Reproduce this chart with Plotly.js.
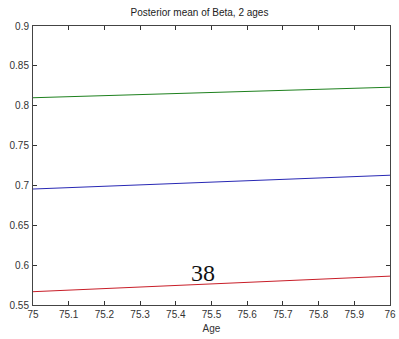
<!DOCTYPE html>
<html>
<head>
<meta charset="utf-8">
<script src="https://cdn.plot.ly/plotly-3.0.1.min.js"></script>
<style>
  html, body { margin: 0; padding: 0; background: #fff; }
  #chart { width: 399px; height: 339px; }
</style>
</head>
<body>
<div id="chart"></div>
<script>
// Posterior mean of Beta over age, one line per group
const ages = [75, 76];
const betaGreen = [0.8100, 0.8232];
const betaBlue = [0.6955, 0.7128];
const betaRed = [0.5667, 0.5862];

const xTicks = [75, 75.1, 75.2, 75.3, 75.4, 75.5, 75.6, 75.7, 75.8, 75.9, 76];
const xTickText = ['75', '75.1', '75.2', '75.3', '75.4', '75.5', '75.6', '75.7', '75.8', '75.9', '76'];
const yTicks = [0.55, 0.6, 0.65, 0.7, 0.75, 0.8, 0.85, 0.9];
const yTickText = ['0.55', '0.6', '0.65', '0.7', '0.75', '0.8', '0.85', '0.9'];

const labelText = '38';
const labelAge = 75.475;
const labelBeta = 0.5905;

const line = (y, color) => ({
  x: ages, y: y, type: 'scatter', mode: 'lines',
  line: { color: color, width: 1 }, hoverinfo: 'skip'
});

const data = [
  line(betaGreen, 'rgb(30,128,30)'),
  line(betaBlue, 'rgb(40,40,180)'),
  line(betaRed, 'rgb(200,30,40)')
];

const axisCommon = {
  showgrid: false, zeroline: false,
  showline: true, linecolor: '#444', linewidth: 1, mirror: 'ticks',
  ticks: 'inside', ticklen: 4, tickcolor: '#333', tickwidth: 1,
  tickfont: { family: 'Liberation Sans, Arial, sans-serif', size: 10, color: '#333' },
  tickmode: 'array'
};

const layout = {
  width: 399, height: 339,
  margin: { l: 33, r: 9, t: 26, b: 34 },
  paper_bgcolor: '#fff', plot_bgcolor: '#fff',
  showlegend: false,
  title: {
    text: 'Posterior mean of Beta, 2 ages',
    font: { family: 'Liberation Sans, Arial, sans-serif', size: 10, color: '#222' },
    x: 0.5, xanchor: 'center', y: 0.963, yanchor: 'middle'
  },
  xaxis: Object.assign({}, axisCommon, {
    range: [75, 76], tickvals: xTicks, ticktext: xTickText, ticklabelstandoff: 0,
    title: { text: 'Age', standoff: 5,
      font: { family: 'Liberation Sans, Arial, sans-serif', size: 10, color: '#333' } }
  }),
  yaxis: Object.assign({}, axisCommon, {
    range: [0.55, 0.9], tickvals: yTicks, ticktext: yTickText, ticklabelstandoff: 1
  }),
  annotations: [{
    x: labelAge, y: labelBeta, xref: 'x', yref: 'y',
    text: labelText, showarrow: false,
    xanchor: 'center', yanchor: 'middle',
    font: { family: 'Liberation Serif, Times New Roman, serif', size: 24, color: '#111' }
  }]
};

Plotly.newPlot('chart', data, layout, { displayModeBar: false, staticPlot: true });
</script>
</body>
</html>
